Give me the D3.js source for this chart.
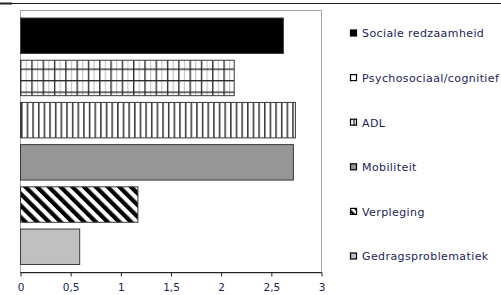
<!DOCTYPE html>
<html>
<head>
<meta charset="utf-8">
<script src="https://cdn.jsdelivr.net/npm/d3@7"></script>
<style>
  html, body { margin: 0; padding: 0; background: #fff; }
  svg { display: block; }
</style>
</head>
<body>
<svg id="chart" width="501" height="295"></svg>
<script>
// ---- Data ----
const categories = ['Sociale redzaamheid', 'Psychosociaal/cognitief', 'ADL', 'Mobiliteit', 'Verpleging', 'Gedragsproblematiek'];
const values = [2.62, 2.13, 2.74, 2.72, 1.17, 0.59];
const fills = ['#000000', 'url(#pGrid)', 'url(#pVert)', '#969696', 'url(#pHatch)', '#c0c0c0'];
const swatchFills = ['#000000', '#ffffff', 'url(#sVert)', '#969696', 'url(#sHatch)', '#c0c0c0'];
const xTicks = [0, 0.5, 1, 1.5, 2, 2.5, 3];

const svg = d3.select('#chart');
const defs = svg.append('defs');
const font = '"DejaVu Sans", Verdana, sans-serif';
const textColor = '#1c1c5a';

// ---- Patterns ----
const grid = defs.append('pattern').attr('id', 'pGrid')
  .attr('patternUnits', 'userSpaceOnUse').attr('width', 11.3).attr('height', 11.5)
  .attr('x', 20).attr('y', 57);
grid.append('rect').attr('width', 11.3).attr('height', 11.5).attr('fill', '#fff');
grid.append('line').attr('x1', 0.7).attr('x2', 0.7).attr('y1', 0).attr('y2', 11.5).attr('stroke', '#222').attr('stroke-width', 1.3);
grid.append('line').attr('x1', 6.3).attr('x2', 6.3).attr('y1', 0).attr('y2', 11.5).attr('stroke', '#aaa').attr('stroke-width', 0.8);
grid.append('line').attr('y1', 0.7).attr('y2', 0.7).attr('x1', 0).attr('x2', 11.3).attr('stroke', '#222').attr('stroke-width', 1.3);

const vert = defs.append('pattern').attr('id', 'pVert')
  .attr('patternUnits', 'userSpaceOnUse').attr('width', 5.65).attr('height', 10).attr('x', 21);
vert.append('rect').attr('width', 5.65).attr('height', 10).attr('fill', '#fff');
vert.append('line').attr('x1', 0.8).attr('x2', 0.8).attr('y1', 0).attr('y2', 10).attr('stroke', '#222').attr('stroke-width', 1.4);

const sVert = defs.append('pattern').attr('id', 'sVert')
  .attr('patternUnits', 'userSpaceOnUse').attr('width', 7).attr('height', 7).attr('x', 350.5);
sVert.append('rect').attr('width', 7).attr('height', 7).attr('fill', '#fff');
sVert.append('line').attr('x1', 3.5).attr('x2', 3.5).attr('y1', 0).attr('y2', 7).attr('stroke', '#000').attr('stroke-width', 1.2);

function hatch(id, size, w) {
  const p = defs.append('pattern').attr('id', id)
    .attr('patternUnits', 'userSpaceOnUse').attr('width', size).attr('height', size)
    .attr('patternTransform', 'rotate(-45)');
  p.append('rect').attr('width', size).attr('height', size).attr('fill', '#fff');
  p.append('rect').attr('width', w).attr('height', size).attr('fill', '#000');
}
hatch('pHatch', 8.3, 4.2);
hatch('sHatch', 5, 2.2);

// ---- Scales ----
const plot = { left: 20, right: 321, top: 10, bottom: 272.5 };

const x = d3.scaleLinear().domain([0, 3]).range([plot.left, plot.right]);
const y = d3.scaleBand().domain(categories)
  .range([plot.top, plot.bottom]).paddingInner(0.16).paddingOuter(0.19);

// ---- Top rule ----
svg.append('line').attr('x1', 0).attr('x2', 501).attr('y1', 3.5).attr('y2', 3.5)
  .attr('stroke', '#222').attr('stroke-width', 1);
svg.append('line').attr('x1', 0).attr('x2', 12).attr('y1', 3.5).attr('y2', 3.5)
  .attr('stroke', '#222').attr('stroke-width', 2);

// ---- Plot frame ----
svg.append('rect')
  .attr('x', plot.left + 0.5).attr('y', plot.top + 0.5)
  .attr('width', plot.right - plot.left).attr('height', plot.bottom - plot.top)
  .attr('fill', 'none').attr('stroke', '#a6a6a6').attr('stroke-width', 1);

// ---- Bars ----
svg.append('g').selectAll('rect')
  .data(values)
  .join('rect')
  .attr('x', x(0) + 0.5)
  .attr('y', (_, i) => y(categories[i]))
  .attr('width', d => x(d) - x(0))
  .attr('height', y.bandwidth())
  .attr('fill', (_, i) => fills[i])
  .attr('stroke', '#3a3a3a')
  .attr('stroke-width', 1);

// ---- Axis ----
const axis = svg.append('g')
  .attr('transform', `translate(0.5,${plot.bottom})`)
  .call(d3.axisBottom(x).tickValues(xTicks).tickSize(4).tickPadding(7)
    .tickFormat(d => String(d).replace('.', ',')));
axis.select('.domain').attr('stroke', '#222').attr('d', `M${plot.left},0H${plot.right}`);
axis.selectAll('.tick line').attr('stroke', '#222');
axis.selectAll('.tick text')
  .attr('font-family', font).attr('font-size', '10.5px').attr('fill', textColor);

// ---- Legend ----
const ly = d3.scalePoint().domain(categories).range([33.5, 256.5]);
const legend = svg.append('g').selectAll('g')
  .data(categories)
  .join('g')
  .attr('transform', d => `translate(350,${ly(d)})`);

legend.append('rect')
  .attr('x', 0.5).attr('y', -3.5).attr('width', 6).attr('height', 6)
  .attr('fill', (_, i) => swatchFills[i])
  .attr('stroke', '#000').attr('stroke-width', 1.2);

legend.append('text')
  .attr('x', 12).attr('y', 0).attr('dy', '0.35em')
  .attr('font-family', font).attr('font-size', '11px').attr('letter-spacing', '0.4px')
  .attr('fill', textColor)
  .text(d => d);
</script>
</body>
</html>
